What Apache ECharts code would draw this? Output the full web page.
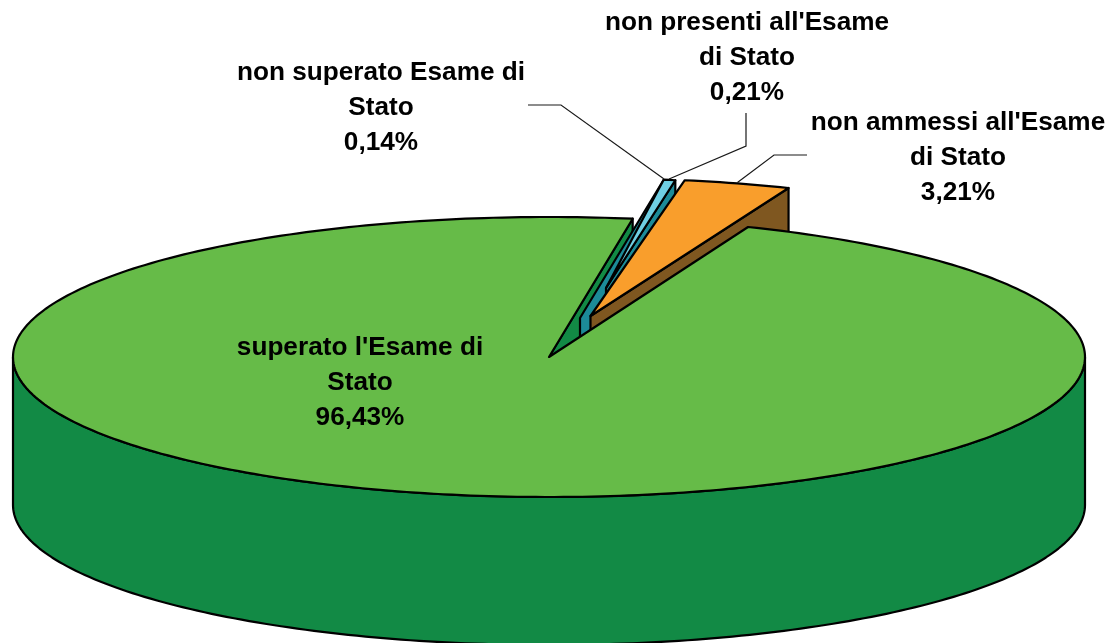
<!DOCTYPE html>
<html><head><meta charset="utf-8">
<style>html,body{margin:0;padding:0;background:#fff}#c{width:1109px;height:643px}</style>
<script src="https://cdn.jsdelivr.net/npm/echarts@6/dist/echarts.min.js"></script>
</head><body><div id="c"></div>
<script>
// data
const categories = ["superato l'Esame di Stato","non superato Esame di Stato","non presenti all'Esame di Stato","non ammessi all'Esame di Stato"];
const labelLines = [["superato l'Esame di","Stato"],["non superato Esame di","Stato"],["non presenti all'Esame","di Stato"],["non ammessi all'Esame","di Stato"]];
const values = [96.43,0.14,0.21,3.21];
// style and layout
const topColors  = ['#66BB48','#6FCFE3','#6FCFE3','#F99E2C'];
const wallColors = ['#128A45','#1C8B98','#1C8B98','#7F5720'];
const explode    = [[0,0],[31,-39],[31,-39],[40.5,-39]];
const tipShift   = [[0,0],[26,-30],[26,-30],[1,-2]];
const labelPos   = [[360,348],[381,73],[747,23],[958,123]];
const leaderMid  = [null,[[528,105],[561,105]],[[746,113],[746,146]],[[807,155],[774,155]]];
const leaderAt   = [0,0,0.1,0.5];
const cx=549, cy=357, rx=536, ry=140, depth=148, startDeg=21.8;
const FONT='bold 26.2px "Liberation Sans", Arial, sans-serif', LH=34.7;

const total = values.reduce((a,b)=>a+b,0);
const spans = []; let acc=startDeg;
values.forEach(v=>{const s=v/total*360; spans.push([acc,acc+s]); acc+=s;});
const rim=(deg,o,dz)=>{const t=deg*Math.PI/180;return [cx+o[0]+rx*Math.sin(t),cy+o[1]-ry*Math.cos(t)+(dz||0)];};
const arc=(a,b,o,dz)=>{const n=Math.max(1,Math.ceil(Math.abs(b-a)));const p=[];for(let i=0;i<=n;i++)p.push(rim(a+(b-a)*i/n,o,dz));return p;};
const line={stroke:'#000',lineWidth:2.2,lineJoin:'round'};
const poly=(points,fill,extra)=>({type:'polygon',shape:{points},style:Object.assign({fill},line,extra||{})});
const drop=(p)=>[p[0],p[1]+depth];

function renderBack(){
  const o=explode[0], end=spans[0][1];
  const front=arc(90,270,o,0).concat(arc(270,90,o,depth));
  const p=rim(end,o), a=[cx,cy];
  return {type:'group',children:[
    poly([a,p,drop(p),drop(a)],wallColors[0]),
    poly(front,wallColors[0])
  ]};
}
function renderSlice(params,api){
  const i=params.dataIndex+1, o=explode[i], s=spans[i];
  const L=rim(s[0],o), R=rim(s[1],o);
  const trueApex=[cx+o[0],cy+o[1]];
  const tip=[trueApex[0]+tipShift[i][0],trueApex[1]+tipShift[i][1]];
  if(i===1){ // narrow sliver: wall seen along its left edge, top merged with the next one
    return {type:'group',children:[
      poly([trueApex,L,drop(L),drop(trueApex)],wallColors[i]),
      poly([tip].concat(arc(s[0],s[1],o)),topColors[i],{stroke:null})
    ]};
  }
  if(i===2){
    const prev=spans[1];
    return {type:'group',children:[
      poly([tip,R,drop(R),drop(tip)],wallColors[i]),
      poly([tip].concat(arc(prev[0],s[1],o)),topColors[i])
    ]};
  }
  return {type:'group',children:[
    poly([tip,R,drop(R),drop(tip)],wallColors[i]),
    poly([tip].concat(arc(s[0],s[1],o)),topColors[i])
  ]};
}
function renderTop(){
  const s=spans[0];
  return poly([[cx,cy]].concat(arc(s[0],s[1],explode[0])),topColors[0]);
}
function renderLabel(params,api){
  const i=params.dataIndex, pct=api.value(0).toFixed(2).replace('.',',')+'%';
  const kids=[];
  if(leaderMid[i]){
    const s=spans[i], end=rim(s[0]+(s[1]-s[0])*leaderAt[i],explode[i]);
    kids.push({type:'polyline',shape:{points:leaderMid[i].concat([[end[0],end[1]-1]])},
      style:{fill:null,stroke:'#1a1a1a',lineWidth:1.2}});
  }
  labelLines[i].concat([pct]).forEach((t,k)=>kids.push({type:'text',style:{
    text:t,x:labelPos[i][0],y:labelPos[i][1]+k*LH,font:FONT,fill:'#000',align:'center',verticalAlign:'middle'}}));
  return {type:'group',children:kids};
}
const base={type:'custom',coordinateSystem:'none',silent:true,animation:false,clip:false};
echarts.init(document.getElementById('c'),null,{renderer:'canvas'}).setOption({
  animation:false,backgroundColor:'#fff',
  series:[
    Object.assign({},base,{name:'back',z:1,data:[[values[0]]],renderItem:renderBack}),
    Object.assign({},base,{name:'slices',z:2,data:values.slice(1).map(v=>[v]),renderItem:renderSlice}),
    Object.assign({},base,{name:'top',z:3,data:[[values[0]]],renderItem:renderTop}),
    Object.assign({},base,{name:'labels',z:4,data:values.map((v,i)=>({name:categories[i],value:[v]})),renderItem:renderLabel})
  ]
});
</script></body></html>
